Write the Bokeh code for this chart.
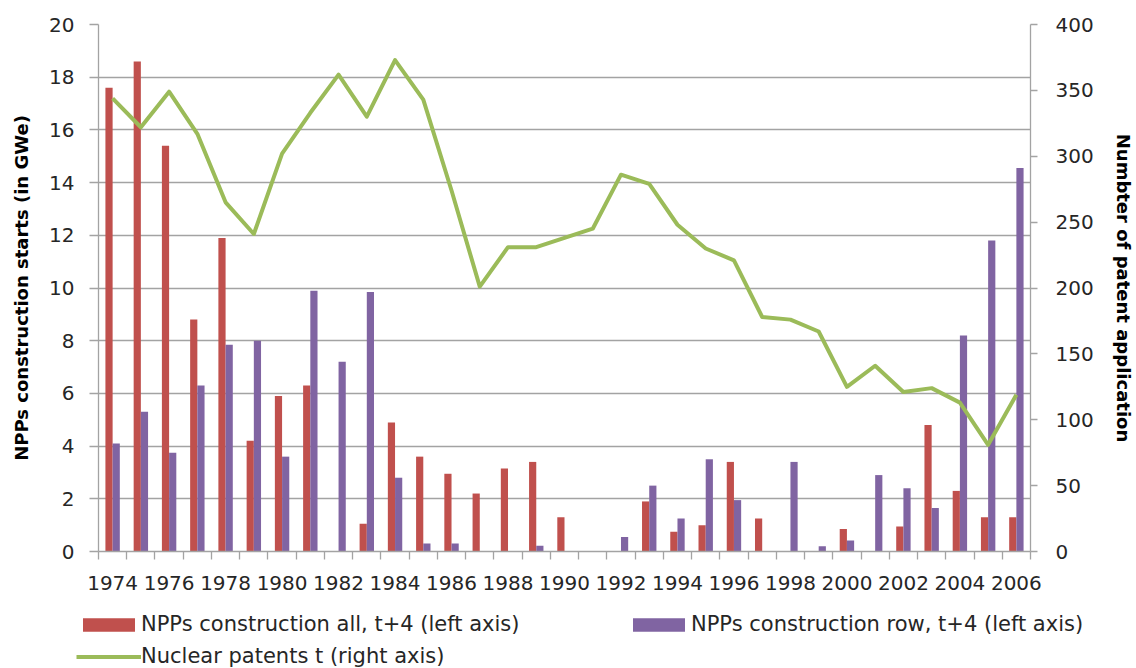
from bokeh.plotting import figure
from bokeh.models import (Range1d, LinearAxis, FixedTicker, Legend, LegendItem,
                          ColumnDataSource, Grid)
from bokeh.layouts import column
from bokeh.transform import dodge
from bokeh.embed import file_html
from bokeh.resources import INLINE

years = list(range(1974, 2007))
npp_all = [17.6, 18.6, 15.4, 8.8, 11.9, 4.2, 5.9, 6.3, 0, 1.05, 4.9, 3.6, 2.95,
           2.2, 3.15, 3.4, 1.3, 0, 0, 1.9, 0.75, 1.0, 3.4, 1.25, 0, 0, 0.85, 0,
           0.95, 4.8, 2.3, 1.3, 1.3]
npp_row = [4.1, 5.3, 3.75, 6.3, 7.85, 8.0, 3.6, 9.9, 7.2, 9.85, 2.8, 0.3, 0.3,
           0, 0, 0.22, 0, 0, 0.55, 2.5, 1.25, 3.5, 1.95, 0, 3.4, 0.2, 0.42, 2.9,
           2.4, 1.65, 8.2, 11.8, 14.55]
patents = [344, 322, 349, 317, 265, 241, 302, 333, 362, 330, 373, 343, 274, 201,
           231, 231, 238, 245, 286, 279, 248, 230, 221, 178, 176, 167, 125, 141,
           121, 124, 113, 81, 119]
left_ticks = list(range(0, 21, 2))
right_ticks = list(range(0, 401, 50))
label_years = [y for y in years if y % 2 == 0]

left_title = "NPPs construction starts (in GWe)"
right_title = "Numbter of patent application"
legend_labels = ["NPPs construction all, t+4 (left axis)",
                 "NPPs construction row, t+4 (left axis)",
                 "Nuclear patents t (right axis)"]

RED = "#C0504D"
PURPLE = "#8064A2"
GREEN = "#9BBB59"
GRID = "#a3a3a3"
TXT = "#262626"
FONT = "DejaVu Sans"

src = ColumnDataSource(dict(year=years, all=npp_all, row=npp_row, pat=patents))

p = figure(width=1136, height=600, output_backend="svg", toolbar_location=None,
           x_range=Range1d(years[0] - 0.5, years[-1] + 0.5),
           y_range=Range1d(0, 20),
           min_border_left=98, min_border_right=103, min_border_top=24,
           min_border_bottom=49, x_axis_type=None, y_axis_type=None)
p.outline_line_color = None
p.background_fill_color = "white"
p.border_fill_color = "white"
p.frame_align = False
p.extra_y_ranges = {"right": Range1d(0, 400)}

p.add_layout(Grid(dimension=1, ticker=FixedTicker(ticks=left_ticks),
                  grid_line_color=GRID, grid_line_width=1.3))

bw = 0.255
bar_style_all = dict(fill_color=RED, line_color=None)
bar_style_row = dict(fill_color=PURPLE, line_color=None)
line_style = dict(line_color=GREEN, line_width=4, line_join="round")

p.vbar(x=dodge("year", -bw / 2), top="all", width=bw, source=src, **bar_style_all)
p.vbar(x=dodge("year", bw / 2), top="row", width=bw, source=src, **bar_style_row)
p.line(x="year", y="pat", source=src, y_range_name="right", **line_style)

# bottom axis
xax = LinearAxis(ticker=FixedTicker(ticks=label_years,
                                    minor_ticks=[y - 0.5 for y in years] + [years[-1] + 0.5]))
xax.axis_line_color = GRID
xax.axis_line_width = 1.3
xax.major_tick_line_color = None
xax.major_tick_out = 0
xax.major_tick_in = 0
xax.minor_tick_line_color = GRID
xax.minor_tick_line_width = 1.3
xax.minor_tick_out = 8
xax.minor_tick_in = 0
xax.major_label_standoff = 16
xax.major_label_text_font = FONT
xax.major_label_text_font_size = "20px"
xax.major_label_text_color = TXT
p.add_layout(xax, "below")

# left axis
yax = LinearAxis(ticker=FixedTicker(ticks=left_ticks), axis_label=left_title)
yax.axis_line_color = GRID
yax.axis_line_width = 1.3
yax.major_tick_line_color = GRID
yax.major_tick_line_width = 1.3
yax.major_tick_out = 9
yax.major_tick_in = 0
yax.minor_tick_line_color = None
yax.major_label_standoff = 15
yax.major_label_text_font = FONT
yax.major_label_text_font_size = "20px"
yax.major_label_text_color = TXT
yax.axis_label_text_font = FONT
yax.axis_label_text_font_size = "18px"
yax.axis_label_text_font_style = "bold"
yax.axis_label_text_color = "black"
yax.axis_label_standoff = 14
p.add_layout(yax, "left")

# right axis
rax = LinearAxis(y_range_name="right", ticker=FixedTicker(ticks=right_ticks),
                 axis_label=right_title)
rax.axis_line_color = GRID
rax.axis_line_width = 1.3
rax.major_tick_line_color = GRID
rax.major_tick_line_width = 1.3
rax.major_tick_out = 7
rax.major_tick_in = 0
rax.minor_tick_line_color = None
rax.major_label_standoff = 18
rax.major_label_text_font = FONT
rax.major_label_text_font_size = "20px"
rax.major_label_text_color = TXT
rax.axis_label_text_font = FONT
rax.axis_label_text_font_size = "18px"
rax.axis_label_text_font_style = "bold"
rax.axis_label_text_color = "black"
rax.axis_label_standoff = 16
p.add_layout(rax, "right")

# legend strip below the chart: same series, drawn outside this strip's ranges,
# so only their legend entries are visible
leg = figure(width=1136, height=68, output_backend="svg", toolbar_location=None,
             x_range=Range1d(0, 1), y_range=Range1d(-1, 0),
             x_axis_type=None, y_axis_type=None,
             min_border_left=0, min_border_right=0, min_border_top=0,
             min_border_bottom=0)
leg.outline_line_color = None
leg.background_fill_color = "white"
leg.border_fill_color = "white"
leg.frame_align = False
l_all = leg.vbar(x="year", top="all", width=bw, source=src, **bar_style_all)
l_row = leg.vbar(x="year", top="row", width=bw, source=src, **bar_style_row)
l_pat = leg.line(x="year", y="pat", source=src, **line_style)

legend = Legend(items=[LegendItem(label=legend_labels[0], renderers=[l_all]),
                       LegendItem(label=legend_labels[1], renderers=[l_row]),
                       LegendItem(label=legend_labels[2], renderers=[l_pat])],
                orientation="horizontal", ncols=2,
                location=(76, 0),
                glyph_width=65, glyph_height=17, label_standoff=0,
                label_width=477, label_height=24, spacing=8,
                padding=0, margin=0,
                label_text_font=FONT, label_text_font_size="21px",
                label_text_color=TXT,
                border_line_color=None, background_fill_alpha=0)
leg.add_layout(legend, "center")

layout = column(p, leg, spacing=0)
open("out.html", "w").write(file_html(layout, INLINE))
